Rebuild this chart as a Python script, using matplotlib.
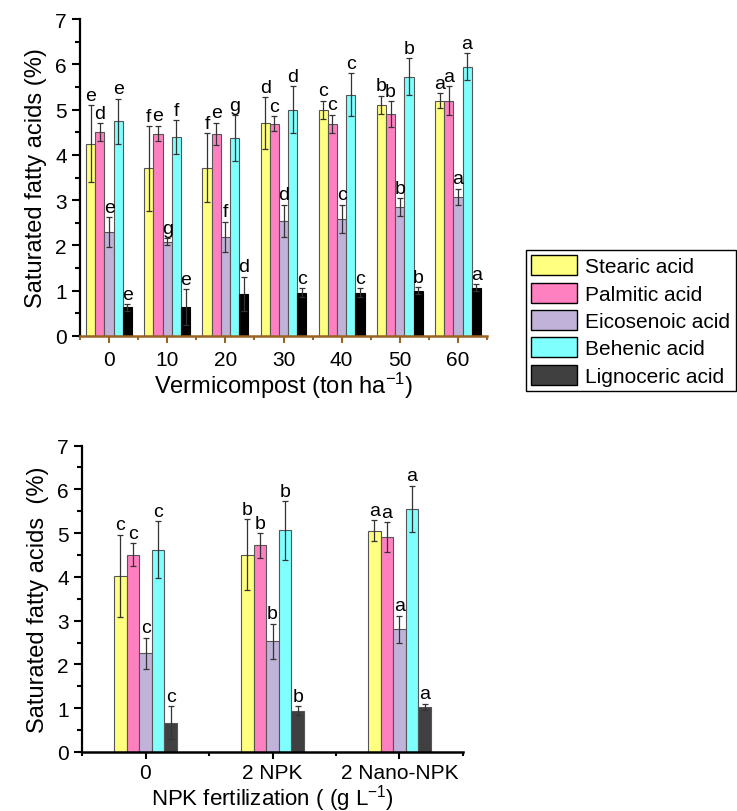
import numpy as np
import matplotlib
matplotlib.use("Agg")
import matplotlib.pyplot as plt
from matplotlib.patches import Patch
from matplotlib.ticker import MultipleLocator

plt.rcParams['font.family'] = ['Liberation Sans', 'DejaVu Sans']
plt.rcParams['mathtext.fontset'] = 'custom'
plt.rcParams['mathtext.rm'] = 'Liberation Sans'
plt.rcParams['mathtext.it'] = 'Liberation Sans:italic'

acids = ['Stearic acid', 'Palmitic acid', 'Eicosenoic acid', 'Behenic acid', 'Lignoceric acid']
colors_top = ['#FFFF80', '#FF80C0', '#C0B2D8', '#80FFFF', '#000000']
colors_bot = ['#FFFF80', '#FF80C0', '#C0B2D8', '#80FFFF', '#404040']

# --- Vermicompost panel ---
vc_levels = ['0', '10', '20', '30', '40', '50', '60']
vc_means = [
    [4.24, 3.70, 3.72, 4.70, 5.00, 5.11, 5.20],   # stearic
    [4.50, 4.47, 4.46, 4.69, 4.69, 4.90, 5.20],   # palmitic
    [2.30, 2.08, 2.19, 2.54, 2.59, 2.85, 3.07],   # eicosenoic
    [4.74, 4.39, 4.37, 5.00, 5.33, 5.73, 5.95],   # behenic
    [0.63, 0.64, 0.93, 0.96, 0.96, 1.00, 1.07],   # lignoceric
]
vc_err = [
    [0.85, 0.93, 0.76, 0.57, 0.20, 0.20, 0.16],
    [0.20, 0.17, 0.25, 0.17, 0.20, 0.29, 0.32],
    [0.33, 0.08, 0.33, 0.36, 0.31, 0.19, 0.18],
    [0.50, 0.37, 0.50, 0.52, 0.48, 0.41, 0.30],
    [0.07, 0.40, 0.38, 0.09, 0.09, 0.08, 0.08],
]
vc_letters = [
    ['e', 'f', 'f', 'd', 'c', 'b', 'a'],
    ['d', 'e', 'e', 'c', 'c', 'b', 'a'],
    ['e', 'g', 'f', 'd', 'c', 'b', 'a'],
    ['e', 'f', 'g', 'd', 'c', 'b', 'a'],
    ['e', 'e', 'd', 'c', 'c', 'b', 'a'],
]

# --- NPK panel ---
npk_levels = ['0', '2 NPK', '2 Nano-NPK']
npk_means = [
    [4.02, 4.50, 5.05],
    [4.51, 4.72, 4.91],
    [2.25, 2.53, 2.80],
    [4.62, 5.06, 5.55],
    [0.67, 0.94, 1.03],
]
npk_err = [
    [0.94, 0.81, 0.24],
    [0.26, 0.28, 0.34],
    [0.36, 0.40, 0.31],
    [0.65, 0.67, 0.53],
    [0.37, 0.10, 0.07],
]
npk_letters = [
    ['c', 'b', 'a'],
    ['c', 'b', 'a'],
    ['c', 'b', 'a'],
    ['c', 'b', 'a'],
    ['c', 'b', 'a'],
]


def draw_panel(ax, levels, means, errs, letters, colors, width, edge_dark):
    x = np.arange(len(levels))
    for i in range(len(means)):
        pos = x + (i - 2) * width
        ec = '#000000' if i == 4 and edge_dark else '#555555'
        ax.bar(pos, means[i], width=width, color=colors[i], edgecolor=ec,
               linewidth=0.8, zorder=2)
        ax.errorbar(pos, means[i], yerr=errs[i], fmt='none', ecolor='#333333',
                    elinewidth=0.9, capsize=2.5, capthick=0.9, zorder=3)
        for p, m, e, lab in zip(pos, means[i], errs[i], letters[i]):
            ax.annotate(lab, (p, m + e), xytext=(0, 1), textcoords='offset points',
                        ha='center', va='bottom', fontsize=14)
    ax.set_xlim(-0.5, len(levels) - 0.5)
    ax.set_ylim(0, 7)
    ax.set_xticks(x)
    ax.set_xticklabels(levels, fontsize=15)
    ax.xaxis.set_minor_locator(MultipleLocator(0.5))
    ax.yaxis.set_major_locator(MultipleLocator(1))
    ax.yaxis.set_minor_locator(MultipleLocator(0.5))
    ax.tick_params(axis='y', which='major', labelsize=15, length=6, width=1.5)
    ax.tick_params(axis='y', which='minor', length=3.5, width=1.5)
    ax.tick_params(axis='x', which='major', length=5, width=1.5, pad=5)
    ax.tick_params(axis='x', which='minor', length=3, width=1.5)
    ax.spines['top'].set_visible(False)
    ax.spines['right'].set_visible(False)
    ax.spines['left'].set_linewidth(1.6)
    ax.spines['bottom'].set_linewidth(1.8)


fig = plt.figure(figsize=(7.37, 8.12), dpi=100)

ax1 = fig.add_axes([80 / 737, 1 - 337 / 812, 407 / 737, 317 / 812])
draw_panel(ax1, vc_levels, vc_means, vc_err, vc_letters, colors_top, 0.158, True)
brown = '#9A6324'
ax1.spines['bottom'].set_color(brown)
ax1.tick_params(axis='x', which='both', color=brown)
ax1.set_ylabel('Saturated fatty acids (%)', fontsize=17, labelpad=6)
ax1.set_xlabel('Vermicompost (ton ha$^{-1}$)', fontsize=17, labelpad=1)

ax2 = fig.add_axes([82 / 737, 1 - 753 / 812, 381 / 737, 306.5 / 812])
draw_panel(ax2, npk_levels, npk_means, npk_err, npk_letters, colors_bot, 0.099, False)
ax2.tick_params(axis='x', which='major', pad=3)
ax2.set_ylabel('Saturated fatty acids  (%)', fontsize=17, labelpad=6)
ax2.set_xlabel('NPK fertilization ( (g L$^{-1}$)', fontsize=16, labelpad=0)

handles = [Patch(facecolor=c, edgecolor='#000000', linewidth=1.0) for c in colors_bot]
leg = fig.legend(handles, acids, loc='upper left',
                 bbox_to_anchor=(526 / 737, 1 - 251 / 812), fontsize=15,
                 frameon=True, fancybox=False, edgecolor='#000000', framealpha=1,
                 handlelength=2.2, handleheight=1.1, labelspacing=0.3,
                 handletextpad=0.4, borderpad=0.25, borderaxespad=0)
leg.get_frame().set_linewidth(1.0)

fig.savefig('out.png', dpi=100)
